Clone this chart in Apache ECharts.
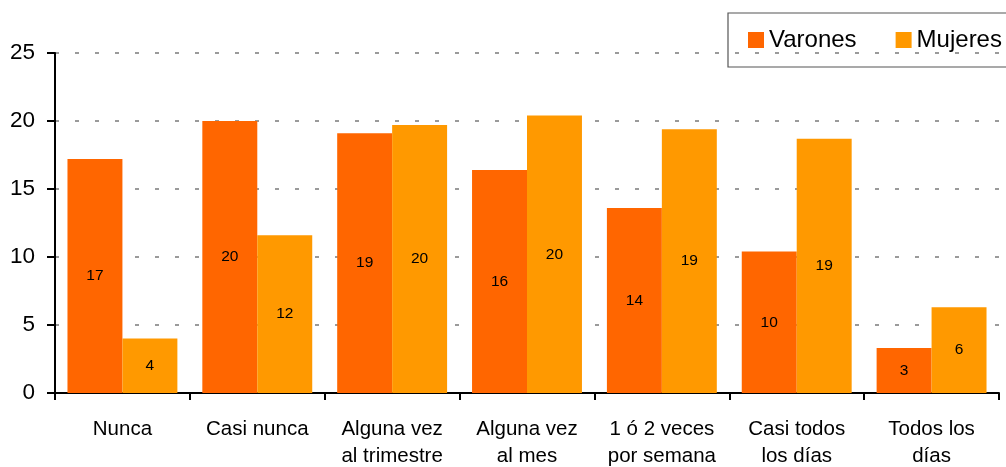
<!DOCTYPE html>
<html>
<head>
<meta charset="utf-8">
<script src="https://cdn.jsdelivr.net/npm/echarts@6/dist/echarts.min.js"></script>
<style>
  html, body { margin: 0; padding: 0; background: #fff; }
  #chart { width: 1006px; height: 467px; }
</style>
</head>
<body>
<div id="chart"></div>
<script>
var categories = ['Nunca', 'Casi nunca', 'Alguna vez\nal trimestre', 'Alguna vez\nal mes', '1 ó 2 veces\npor semana', 'Casi todos\nlos días', 'Todos los\ndías']
var varones = [17.2, 20.0, 19.1, 16.4, 13.6, 10.4, 3.3]
var mujeres = [4.0, 11.6, 19.7, 20.4, 19.4, 18.7, 6.3]
var yTicks = [0, 5, 10, 15, 20, 25]

var chart = echarts.init(document.getElementById('chart'))
var labelStyle = {
  show: true,
  position: 'inside',
  color: '#000',
  fontSize: 15.5,
  fontFamily: 'Liberation Sans, Arial, sans-serif',
  formatter: function (p) { return Math.round(p.value) }
}
chart.setOption({
  animation: false,
  textStyle: { fontFamily: 'Liberation Sans, Arial, sans-serif' },
  legend: {
    left: 728,
    top: 13,
    width: 320,
    orient: 'horizontal',
    padding: [14, 20, 14, 20],
    borderColor: '#555',
    borderWidth: 1.2,
    itemWidth: 16,
    itemHeight: 16,
    itemGap: 39,
    icon: 'rect',
    textStyle: { fontSize: 24, color: '#000', lineHeight: 26 },
    data: ['Varones', 'Mujeres']
  },
  grid: { left: 55, right: 7, top: 53, bottom: 74, outerBoundsMode: 'none', containLabel: false },
  xAxis: {
    type: 'category',
    data: categories,
    axisLine: { lineStyle: { color: '#000', width: 2 } },
    axisTick: { show: true, length: 7, lineStyle: { color: '#000', width: 2 } },
    axisLabel: { color: '#000', fontSize: 20.5, lineHeight: 27, margin: 23, interval: 0 }
  },
  yAxis: {
    type: 'value',
    min: 0,
    max: 25,
    interval: 5,
    axisLine: { show: true, lineStyle: { color: '#000', width: 2 } },
    axisTick: { show: true, length: 8, lineStyle: { color: '#000', width: 2 } },
    axisLabel: {
      color: '#000', fontSize: 22.5, margin: 20,
      formatter: function (v) { return yTicks.indexOf(v) >= 0 ? v : '' }
    },
    splitLine: { show: true, lineStyle: { color: '#7a7a7a', width: 1.5, type: [4, 16] } }
  },
  series: [
    {
      name: 'Varones',
      type: 'bar',
      data: varones,
      itemStyle: { color: '#FF6600' },
      barGap: '0%',
      barCategoryGap: '18.5%',
      label: labelStyle
    },
    {
      name: 'Mujeres',
      type: 'bar',
      data: mujeres,
      itemStyle: { color: '#FF9900' },
      label: labelStyle
    }
  ]
})
</script>
</body>
</html>
